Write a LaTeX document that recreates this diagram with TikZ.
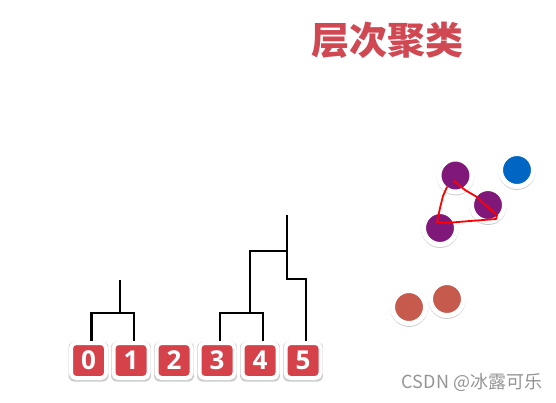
\documentclass[tikz,border=0pt]{standalone}
\usepackage{fontspec}
\setmainfont{Open Sans}
\newfontfamily\cjk{Noto Sans CJK SC}
\usetikzlibrary{shadows}
\tikzset{every shadow/.style={fill=black,opacity=0.2,shadow scale=1.14,shadow xshift=0pt,shadow yshift=-0.5pt}}
\definecolor{boxred}{RGB}{214,66,74}
\definecolor{titlered}{RGB}{208,72,82}
\definecolor{dotpurple}{RGB}{128,24,122}
\definecolor{dotblue}{RGB}{0,102,196}
\definecolor{dotbrown}{RGB}{198,90,76}
\tikzset{
  numbox/.style={rectangle,rounded corners=2.5pt,fill=boxred,draw=white,line width=2pt,
    minimum size=17.5pt,inner sep=0pt,text=white,font=\bfseries\fontsize{13}{14}\selectfont,drop shadow},
  dot/.style={circle,fill=#1,draw=white,line width=2.5pt,minimum size=16.5pt,inner sep=0pt,drop shadow},
  dend/.style={line width=1.3pt,black},
  scribble/.style={red,line width=0.9pt,line join=round,line cap=round}
}
\begin{document}
\begin{tikzpicture}[x=0.5pt,y=-0.5pt]
\useasboundingbox (0,0) rectangle (556,402);
% title
\node (title) [text=titlered,font=\cjk\bfseries\fontsize{19}{22}\selectfont] at (387,40) {层次聚类};
%
\node (b0) [numbox] at (88.5,360.5) {0};
\node (b1) [numbox] at (131,360.5) {1};
\node (b2) [numbox] at (174,360.5) {2};
\node (b3) [numbox] at (217,360.5) {3};
\node (b4) [numbox] at (260,360.5) {4};
\node (b5) [numbox] at (303,360.5) {5};
%
\coordinate (h01) at (120,313);
\coordinate (t01) at (120,280);
\coordinate (h34) at (250,313);
\coordinate (h345) at (287,251);
\coordinate (h5) at (287,279);
\coordinate (top) at (287,215);
\draw[dend] ([xshift=1.5pt]b0.north) |- (h01) -| ([xshift=1.5pt]b1.north);
\draw[dend] (h01) -- (t01);
\draw[dend] ([xshift=1.5pt]b3.north) |- (h34) -| ([xshift=1.5pt]b4.north);
\draw[dend] (h34) |- (h345);
\draw[dend] ([xshift=1.5pt]b5.north) |- (h5) -- (top);
% points
\node (p1) [dot=dotpurple] at (455.5,175.5) {};
\node (p2) [dot=dotpurple] at (488,205) {};
\node (p3) [dot=dotpurple] at (440,228) {};
\node (q1) [dot=dotblue] at (517,170) {};
\node (r1) [dot=dotbrown] at (409,307) {};
\node (r2) [dot=dotbrown] at (447,299) {};
%
\draw[scribble] (454,181) -- (465,190) -- (477,197) -- (482,202) -- (490,209) -- (497,215)
  -- (496,219) -- (470,221) -- (446,223) -- (437,222) -- (440,208) -- (443,196) -- (447,187);
%
\node (mark) [text=black!42,font=\cjk\fontsize{9}{10}\selectfont] at (472,382) {CSDN @冰露可乐};
\end{tikzpicture}
\end{document}
